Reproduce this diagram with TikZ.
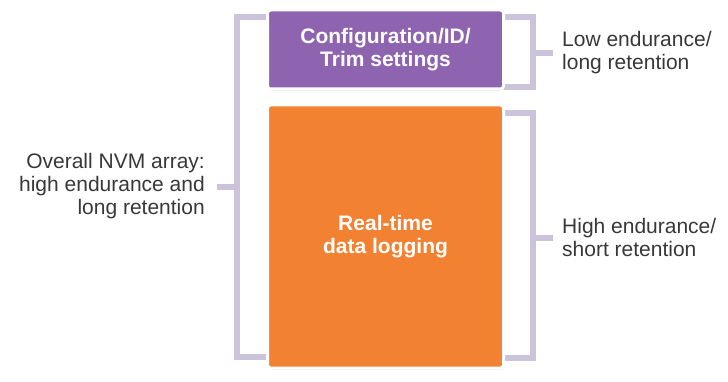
\documentclass[tikz,border=0pt]{standalone}
\usepackage{fontspec}
\setmainfont{Liberation Sans}
\usetikzlibrary{shadows}
\definecolor{cfgpurple}{HTML}{8E63AF}
\definecolor{logorange}{HTML}{F28132}
\definecolor{bracketlav}{HTML}{CBC3DA}
\definecolor{labelgrey}{HTML}{383838}
\tikzset{
  memblock/.style={draw=white, line width=3pt, rounded corners=3pt,
    drop shadow={shadow xshift=0.6pt, shadow yshift=-1.6pt, opacity=0.25},
    text=white, font=\fontsize{21}{23}\selectfont\bfseries, align=center,
    inner sep=0pt},
  bracket/.style={draw=bracketlav, line width=6pt},
  sidelabel/.style={text=labelgrey, font=\fontsize{21}{23}\selectfont, inner sep=0pt}
}
\begin{document}
\begin{tikzpicture}[x=1pt, y=-1pt]
  \useasboundingbox (0,0) rectangle (728,382);

  % brackets sit behind the memory blocks
  \draw[bracket] (272,17) -- (237,17) -- (237,357) -- (272,357);
  \draw[bracket] (500,17) -- (533,17) -- (533,87) -- (500,87);
  \draw[bracket] (500,113) -- (533,113) -- (533,358) -- (500,358);
  \coordinate (lefttick) at (237,187);
  \coordinate (toptick) at (533,53);
  \coordinate (bottick) at (533,238);

  % memory blocks
  \node[memblock, fill=cfgpurple, minimum width=236pt, minimum height=79pt]
    (cfg) at (385.5,49.5) {Configuration/ID/\\Trim settings};
  \node[memblock, fill=logorange, minimum width=236pt, minimum height=263pt]
    (log) at (385.5,236.5) {Real-time\\data logging};

  % side labels
  \node[sidelabel, align=right, anchor=east] (overall) at (205,186)
    {Overall NVM array:\\high endurance and\\long retention};
  \node[sidelabel, align=left, anchor=west] (low) at (562,53)
    {Low endurance/\\long retention};
  \node[sidelabel, align=left, anchor=west] (high) at (562,237)
    {High endurance/\\short retention};

  % ticks joining brackets to labels
  \draw[bracket] (lefttick) -- ++(-20,0);
  \draw[bracket] (toptick) -- ++(20,0);
  \draw[bracket] (bottick) -- ++(20,0);
\end{tikzpicture}
\end{document}
